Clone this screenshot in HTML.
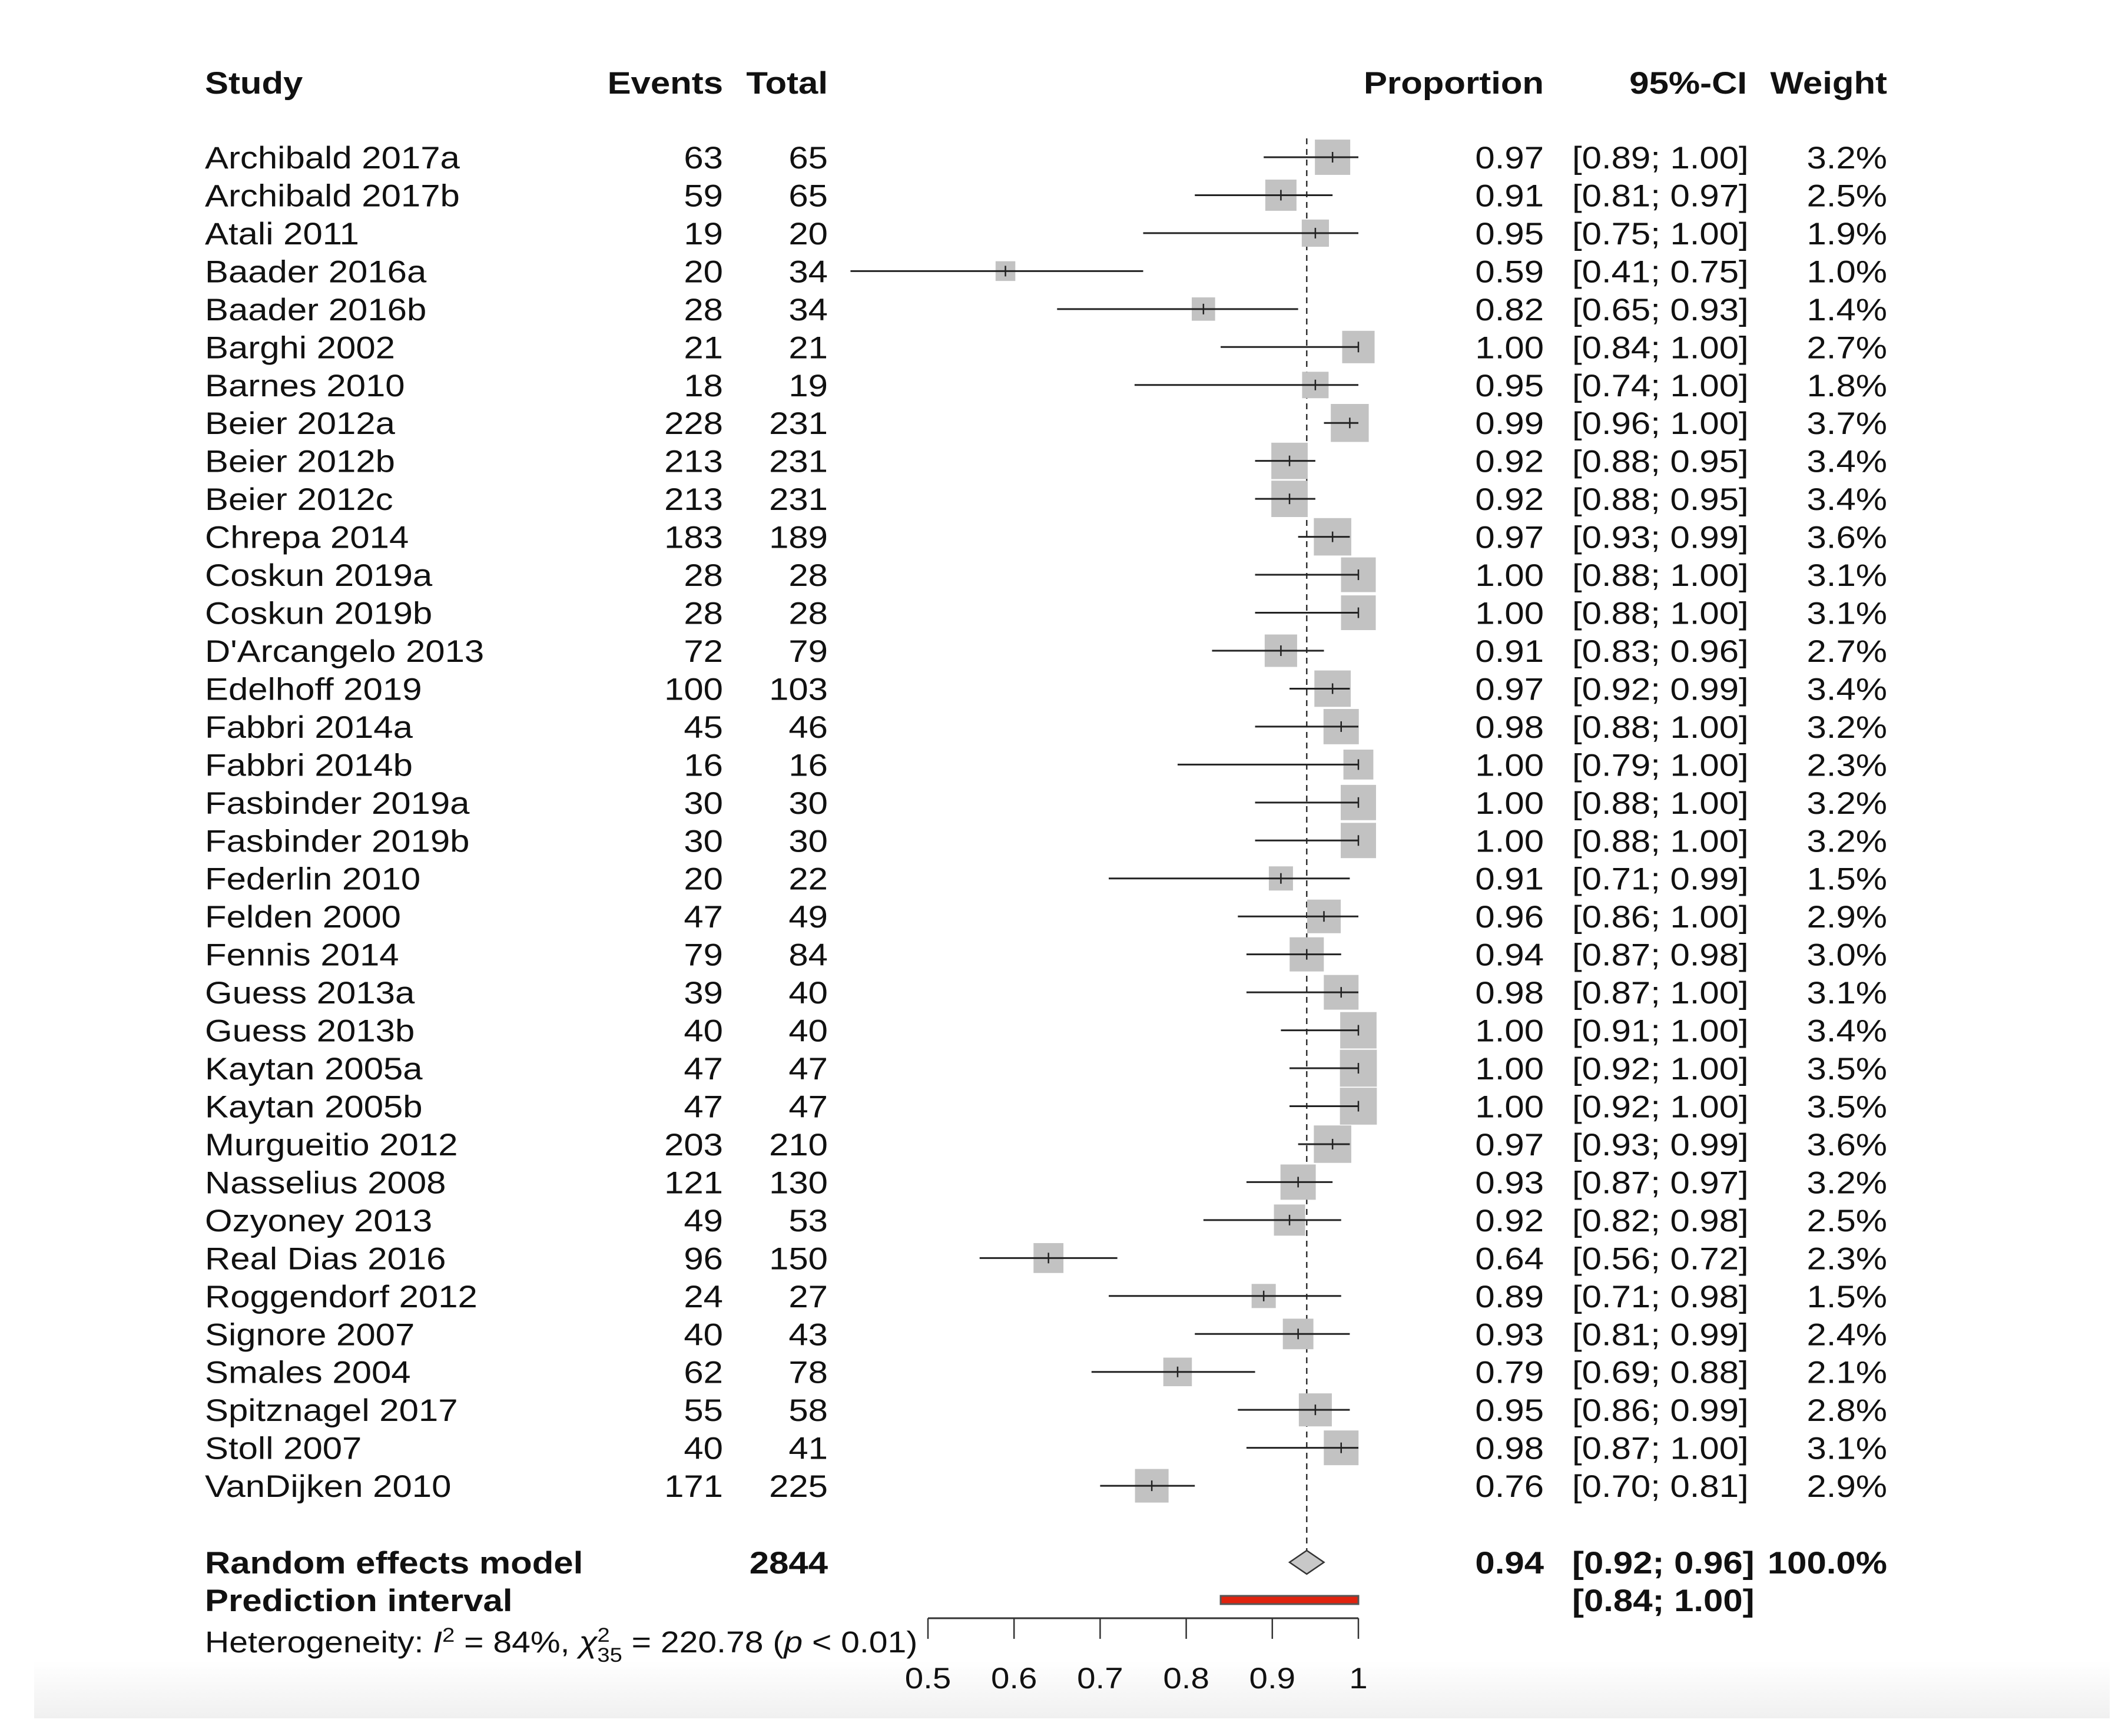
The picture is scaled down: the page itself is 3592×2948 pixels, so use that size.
<!DOCTYPE html>
<html><head><meta charset="utf-8"><style>
html,body{margin:0;padding:0;background:#fff}
svg{display:block}
text{font-family:"Liberation Sans",Arial,sans-serif;fill:#111}
</style></head><body>
<svg id="chart" width="3592" height="2948" viewBox="0 0 3592 2948" xmlns="http://www.w3.org/2000/svg">
<defs><linearGradient id="bg" x1="0" y1="0" x2="0" y2="1"><stop offset="0" stop-color="#ffffff"/><stop offset="1" stop-color="#f0f0f0"/></linearGradient></defs>
<rect x="58" y="2820" width="3525" height="98" fill="url(#bg)"/>
<g id="g"></g>
</svg>
<script>
const studies=["Archibald 2017a","Archibald 2017b","Atali 2011","Baader 2016a","Baader 2016b","Barghi 2002","Barnes 2010","Beier 2012a","Beier 2012b","Beier 2012c","Chrepa 2014","Coskun 2019a","Coskun 2019b","D'Arcangelo 2013","Edelhoff 2019","Fabbri 2014a","Fabbri 2014b","Fasbinder 2019a","Fasbinder 2019b","Federlin 2010","Felden 2000","Fennis 2014","Guess 2013a","Guess 2013b","Kaytan 2005a","Kaytan 2005b","Murgueitio 2012","Nasselius 2008","Ozyoney 2013","Real Dias 2016","Roggendorf 2012","Signore 2007","Smales 2004","Spitznagel 2017","Stoll 2007","VanDijken 2010"];
const events=[63,59,19,20,28,21,18,228,213,213,183,28,28,72,100,45,16,30,30,20,47,79,39,40,47,47,203,121,49,96,24,40,62,55,40,171];
const totals=[65,65,20,34,34,21,19,231,231,231,189,28,28,79,103,46,16,30,30,22,49,84,40,40,47,47,210,130,53,150,27,43,78,58,41,225];
const props=[0.97,0.91,0.95,0.59,0.82,1.00,0.95,0.99,0.92,0.92,0.97,1.00,1.00,0.91,0.97,0.98,1.00,1.00,1.00,0.91,0.96,0.94,0.98,1.00,1.00,1.00,0.97,0.93,0.92,0.64,0.89,0.93,0.79,0.95,0.98,0.76];
const lowers=[0.89,0.81,0.75,0.41,0.65,0.84,0.74,0.96,0.88,0.88,0.93,0.88,0.88,0.83,0.92,0.88,0.79,0.88,0.88,0.71,0.86,0.87,0.87,0.91,0.92,0.92,0.93,0.87,0.82,0.56,0.71,0.81,0.69,0.86,0.87,0.70];
const uppers=[1.00,0.97,1.00,0.75,0.93,1.00,1.00,1.00,0.95,0.95,0.99,1.00,1.00,0.96,0.99,1.00,1.00,1.00,1.00,0.99,1.00,0.98,1.00,1.00,1.00,1.00,0.99,0.97,0.98,0.72,0.98,0.99,0.88,0.99,1.00,0.81];
const weights=[3.2,2.5,1.9,1.0,1.4,2.7,1.8,3.7,3.4,3.4,3.6,3.1,3.1,2.7,3.4,3.2,2.3,3.2,3.2,1.5,2.9,3.0,3.1,3.4,3.5,3.5,3.6,3.2,2.5,2.3,1.5,2.4,2.1,2.8,3.1,2.9];
const pooled=[0.94,0.92,0.96];
const predInt=[0.84,1.00];
const ticks=[0.5,0.6,0.7,0.8,0.9,1];
const NS="http://www.w3.org/2000/svg";
const g=document.getElementById('g');
const X=v=>1576+(v-0.5)*1462;
const rowY=i=>267+i*64.46;
const PR=2622, CIL=2670, CIR=2967, WR=3205;
function el(t,a){const e=document.createElementNS(NS,t);for(const k in a)e.setAttribute(k,a[k]);g.appendChild(e);return e;}
function txt(x,y,s,anchor,bold,size,name){
  const e=el('text',{transform:`translate(${x},${y}) scale(1.13,1)`,'text-anchor':anchor||'start','font-size':size||53,'font-weight':bold?'bold':'normal'});
  e.textContent=s;
  
  
  return e;
}
const hy=140+19;
txt(348,hy,'Study','start',true,53,'study-header');
txt(1228,hy,'Events','end',true,53,'events-header');
txt(1406,hy,'Total','end',true,53,'total-header');
txt(PR,hy,'Proportion','end',true,53,'proportion-header');
txt(CIR,hy,'95%-CI','end',true,53,'ci-header');
txt(WR,hy,'Weight','end',true,53,'weight-header');
const dl=el('line',{x1:X(pooled[0]),x2:X(pooled[0]),y1:235,y2:2640,stroke:'#333','stroke-width':2.5,'stroke-dasharray':'10 8'});


studies.forEach((s,i)=>{
  const y=rowY(i), by=y+19;
  txt(348,by,s,'start',false,53,'study-label');
  txt(1228,by,String(events[i]),'end',false,53,'events-value');
  txt(1406,by,String(totals[i]),'end',false,53,'total-value');
  txt(PR,by,props[i].toFixed(2),'end',false,53,'proportion-value');
  txt(CIL,by,`[${lowers[i].toFixed(2)}; ${uppers[i].toFixed(2)}]`,'start',false,53,'ci-value');
  txt(WR,by,weights[i].toFixed(1)+'%','end',false,53,'weight-value');
  const sz=33.5*Math.sqrt(weights[i]);
  const sq=el('rect',{x:X(props[i])-sz/2,y:y-sz/2,width:sz,height:sz,fill:'#c2c2c2'});
  
  
  const ln=el('line',{x1:X(lowers[i]),x2:X(uppers[i]),y1:y,y2:y,stroke:'#222','stroke-width':3});
  
  
  const tk=el('line',{x1:X(props[i]),x2:X(props[i]),y1:y-9,y2:y+9,stroke:'#222','stroke-width':2.5});
  
  
});
const ry=2653, py=2717;
txt(348,ry+19,'Random effects model','start',true,53,'random-effects-label');
txt(1406,ry+19,'2844','end',true,53,'total-sum');
txt(PR,ry+19,pooled[0].toFixed(2),'end',true,53,'pooled-proportion');
txt(CIL,ry+19,`[${pooled[1].toFixed(2)}; ${pooled[2].toFixed(2)}]`,'start',true,53,'pooled-ci');
txt(WR,ry+19,'100.0%','end',true,53,'pooled-weight');
const dm=el('polygon',{points:`${X(pooled[1])},${ry} ${X(pooled[0])},${ry-20} ${X(pooled[2])},${ry} ${X(pooled[0])},${ry+20}`,fill:'#c8c8c8',stroke:'#333','stroke-width':2.5});


txt(348,py+19,'Prediction interval','start',true,53,'prediction-interval-label');
txt(CIL,py+19,`[${predInt[0].toFixed(2)}; ${predInt[1].toFixed(2)}]`,'start',true,53,'prediction-interval-ci');
const pr=el('rect',{x:X(predInt[0]),y:py-7,width:X(predInt[1])-X(predInt[0]),height:14,fill:'#e0220e',stroke:'#555','stroke-width':3});


const ay=2748;
const ax=el('line',{x1:X(ticks[0]),x2:X(ticks[ticks.length-1]),y1:ay,y2:ay,stroke:'#333','stroke-width':3});


ticks.forEach(t=>{
  const l=el('line',{x1:X(t),x2:X(t),y1:ay,y2:2783,stroke:'#333','stroke-width':2.5});
  
  
  txt(X(t),2867,String(t),'middle',false,50,'x-tick-label');
});
const h=el('text',{transform:'translate(348,2806) scale(1.12,1)','font-size':51});


h.innerHTML='Heterogeneity: <tspan font-style="italic">I</tspan><tspan dy="-18" font-size="34">2</tspan><tspan dy="18"> = 84%, </tspan><tspan font-style="italic">χ</tspan><tspan dy="-18" font-size="34">2</tspan><tspan dx="-19" dy="34" font-size="34">35</tspan><tspan dy="-16"> = 220.78 (</tspan><tspan font-style="italic">p</tspan><tspan> &lt; 0.01)</tspan>';
</script>
</body></html>
